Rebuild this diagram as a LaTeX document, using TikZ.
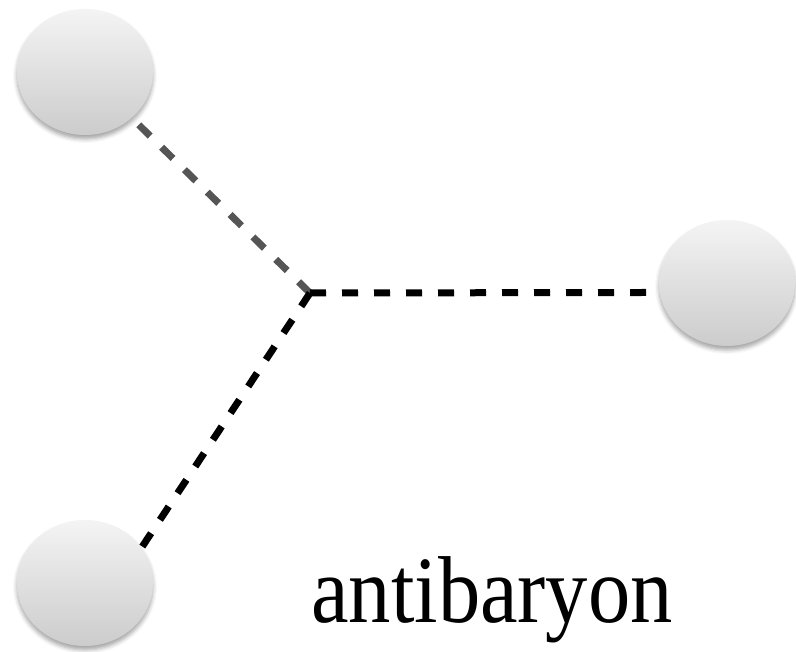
\documentclass[tikz,border=0pt]{standalone}
\usepackage{fontspec}
\setmainfont{Liberation Serif}
\usetikzlibrary{shapes.geometric,shadows.blur,backgrounds}
\definecolor{balltop}{RGB}{244,244,244}
\definecolor{ballbot}{RGB}{204,204,204}
\definecolor{greydash}{RGB}{85,85,85}
\tikzset{
  ball/.style={ellipse, minimum width=136pt, minimum height=126pt, inner sep=0pt,
    top color=balltop, bottom color=ballbot, draw=none,
    blur shadow={shadow xshift=0pt, shadow yshift=-4pt, shadow blur radius=4pt, shadow opacity=35}},
  quarkline/.style={line width=7pt, dash pattern=on 16pt off 16pt},
  greyline/.style={quarkline, draw=greydash},
  blackline/.style={quarkline, draw=black},
  label/.style={anchor=base west, inner sep=0pt, font=\fontsize{95}{95}\selectfont}
}
\begin{document}
\begin{tikzpicture}[x=1pt,y=-1pt]
\useasboundingbox (0,0) rectangle (796,652);
\node[ball] (tl) at (85,72) {};
\node[ball] (rt) at (727,283) {};
\node[ball] (bl) at (85,583) {};
\coordinate (j) at (310,293);
\begin{scope}[on background layer]
  \draw[greyline] (j) -- (tl);
  \draw[blackline] (j) -- (rt.188);
  \draw[blackline] (j) -- (bl.32);
\end{scope}
\node[label] (lbl) at (311,622) {\scalebox{0.89}[1]{antibaryon}};
\end{tikzpicture}
\end{document}
